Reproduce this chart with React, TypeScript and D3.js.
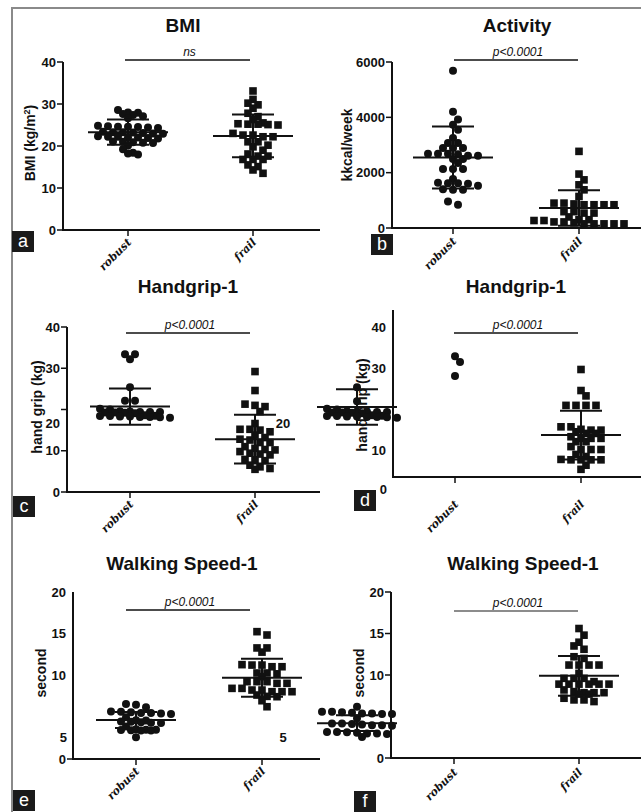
import React from "react";
import * as d3 from "d3";

// groups on the x axis
const categories = ["robust", "frail"];

// a: BMI (kg/m2)
const bmiRobust = [28.6, 28.0, 27.9, 27.6, 27.4, 27.1, 26.6, 24.8, 24.7, 24.6, 24.6, 24.5, 24.4, 24.3, 23.4, 23.3, 23.3, 23.2, 23.1, 23.0, 22.9, 22.3, 22.2, 22.2, 22.1, 22.0, 21.9, 21.8, 21.1, 21.0, 20.9, 20.8, 20.7, 20.1, 19.2, 18.4, 18.2, 18.0];
const bmiFrail = [33.1, 31.1, 30.2, 29.8, 29.0, 27.8, 27.0, 26.3, 25.5, 25.3, 25.2, 25.2, 25.0, 25.1, 23.0, 22.6, 22.6, 22.2, 22.2, 21.0, 21.0, 20.2, 19.8, 19.0, 18.1, 17.6, 17.6, 16.8, 16.8, 16.8, 15.5, 15.1, 14.3, 13.5];
const bmiMean = [23.3, 22.4];
const bmiSD = [3.0, 5.1];
const bmiTicks = [0, 10, 20, 30, 40];

// b: activity (kcal/week)
const activityRobust = [5680, 4200, 3920, 3730, 3550, 3250, 3070, 3070, 2890, 2890, 2890, 2680, 2680, 2670, 2680, 2610, 2610, 2490, 2490, 2350, 2130, 2130, 2130, 1770, 1640, 1620, 1620, 1600, 1530, 1400, 1380, 1380, 960, 840];
const activityFrail = [2770, 1950, 1740, 1560, 1380, 1140, 900, 900, 870, 840, 840, 840, 840, 590, 590, 540, 540, 400, 300, 300, 270, 270, 220, 220, 190, 150, 150, 150, 150, 150];
const activityMean = [2550, 720];
const activitySD = [1120, 640];
const activityTicks = [0, 2000, 4000, 6000];

// c: handgrip (kg)
const gripRobust = [33.4, 33.4, 32.2, 25.4, 22.1, 22.1, 20.2, 20.0, 19.6, 19.5, 19.4, 19.4, 19.4, 19.3, 19.3, 19.2, 19.1, 18.6, 18.5, 18.4, 18.4, 18.3, 18.3, 18.2, 18.2, 18.1, 18.0];
const gripFrail = [29.2, 24.6, 21.3, 21.0, 20.7, 19.5, 16.6, 15.2, 15.2, 15.0, 14.6, 13.8, 13.2, 12.8, 12.6, 12.0, 12.0, 11.0, 10.6, 10.3, 10.2, 9.8, 9.4, 9.2, 9.0, 7.9, 7.8, 7.6, 6.5, 6.1, 5.7, 5.5];
const gripMean = [20.7, 12.8];
const gripSD = [4.4, 5.9];
const gripTicks = [0, 10, 20, 30, 40];
const gripLabelled = [0, 10, 30, 40];

// d: handgrip, second copy
const grip2RobustHigh = [32.9, 31.5, 28.1];
const grip2Robust = [25.4, 22.0, 20.2, 20.0, 19.6, 19.5, 19.4, 19.4, 19.4, 19.3, 19.3, 19.2, 19.1, 18.6, 18.5, 18.4, 18.4, 18.3, 18.3, 18.2, 18.2, 18.1, 18.0];
const grip2Frail = [29.7, 24.6, 23.3, 21.0, 21.0, 21.0, 21.0, 15.8, 15.8, 15.2, 15.0, 15.0, 14.6, 14.2, 14.2, 13.4, 13.0, 13.0, 13.0, 12.2, 12.2, 11.0, 10.3, 10.3, 10.3, 9.1, 8.6, 7.9, 7.8, 7.8, 7.8, 7.8, 6.5, 5.5];
const grip2Mean = [20.6, 13.8];
const grip2SD = [4.3, 5.9];
const grip2Labelled = [10, 30, 40];

// e: walking speed (second)
const walkRobust = [6.6, 6.5, 6.2, 5.7, 5.65, 5.6, 5.5, 5.5, 5.45, 5.4, 5.0, 4.65, 4.6, 4.5, 4.45, 4.4, 4.35, 4.3, 3.9, 3.55, 3.5, 3.5, 3.47, 3.45, 3.4, 3.4, 2.6];
const walkFrail = [15.25, 14.85, 13.3, 13.3, 12.8, 11.3, 11.25, 11.25, 11.05, 11.05, 10.3, 10.3, 10.2, 9.86, 9.26, 9.26, 9.26, 9.06, 9.06, 8.46, 8.46, 8.26, 8.26, 8.06, 8.06, 8.06, 7.66, 7.5, 7.46, 6.98, 6.26];
const walkMean = [4.67, 9.74];
const walkSD = [0.96, 2.27];
const walkLabelled = [10, 15, 20];

// f: walking speed, second copy
const walk2Robust = [6.16, 5.56, 5.56, 5.5, 5.45, 5.37, 5.37, 5.3, 5.3, 4.8, 4.15, 4.15, 4.1, 4.05, 3.95, 3.95, 3.9, 3.14, 3.14, 3.1, 3.05, 2.95, 2.95, 2.9, 2.54];
const walk2Frail = [15.6, 14.8, 13.95, 13.5, 13.1, 12.2, 12.0, 11.2, 11.2, 11.2, 11.2, 10.2, 9.6, 9.6, 9.6, 9.2, 8.9, 8.9, 8.9, 8.9, 8.9, 8.9, 8.2, 8.0, 7.87, 7.87, 7.87, 7.7, 7.7, 7.2, 7.0, 7.0, 6.8];
const walk2Mean = [4.2, 9.9];
const walk2SD = [0.95, 2.4];
const walk2Ticks = [0, 10, 15, 20];

const FONT = "Liberation Sans, Arial, Helvetica, sans-serif";

// scatter dot plot layout: points close in y go on one row, spread sideways
function layoutRows(values, y, cx) {
  const ys = values.map((v) => y(v)).sort((a, b) => a - b);
  const rows = [];
  ys.forEach((py) => {
    const last = rows[rows.length - 1];
    if (last && py - last[0] <= 3.5) last.push(py);
    else rows.push([py]);
  });
  const out = [];
  let prevY = -1e9, prevPhase = -1;
  rows.forEach((r) => {
    const n = r.length;
    const my = d3.mean(r);
    let phase = n % 2 ? 0 : 5;
    let shift = 0;
    if (my - prevY < 8 && phase === prevPhase) {
      shift = 5;
      phase = 5 - phase;
    }
    r.forEach((py, i) => out.push({ x: cx + (i - (n - 1) / 2) * 10 + shift, y: py }));
    prevY = my;
    prevPhase = phase;
  });
  return out;
}

function Marks({ values, y, cx, shape }) {
  const pts = layoutRows(values, y, cx);
  return (
    <g fill="#111">
      {pts.map((p, i) =>
        shape === "circle" ? (
          <circle key={i} cx={p.x} cy={p.y} r={4} />
        ) : (
          <rect key={i} x={p.x - 3.8} y={p.y - 3.8} width={7.6} height={7.6} />
        )
      )}
    </g>
  );
}

function MeanSD({ cx, y, mean, sd }) {
  const ym = y(mean), yt = y(mean + sd), yb = y(mean - sd);
  return (
    <g stroke="#111" strokeWidth={2}>
      <line x1={cx} x2={cx} y1={yt} y2={yb} />
      <line x1={cx - 21} x2={cx + 21} y1={yt} y2={yt} />
      <line x1={cx - 21} x2={cx + 21} y1={yb} y2={yb} />
      <line x1={cx - 40} x2={cx + 40} y1={ym} y2={ym} />
    </g>
  );
}

function Panel({ p }) {
  const y = d3.scaleLinear().domain(p.domain).range(p.range);
  const x = d3.scalePoint().domain(categories).range(p.cat);
  return (
    <g fontFamily={FONT} fill="#111">
      <text x={p.titleX} y={p.titleY} textAnchor="middle" fontWeight="bold" fontSize={19}>{p.title}</text>
      <text transform={`translate(${p.yLabelX},${p.yLabelY}) rotate(-90)`} textAnchor="middle" fontWeight="bold" fontSize={14}>
        {p.yLabel}
        {p.sup ? <tspan dy={-5} fontSize={9}>{p.sup}</tspan> : null}
        {p.sup ? <tspan dy={5}>)</tspan> : null}
      </text>
      {p.groups.map((g, i) => (
        <Marks key={i} values={g.values} y={y} cx={g.cx ?? x(g.cat)} shape={g.shape} />
      ))}
      {p.stats.map((s, i) => (
        <MeanSD key={i} cx={s.cx ?? x(s.cat)} y={y} mean={s.mean} sd={s.sd} />
      ))}
      <line x1={p.axisX} x2={p.axisX} y1={p.axisTop} y2={p.xAxisY + 1} stroke="#111" strokeWidth={2} />
      <line x1={p.axisX - 1} x2={p.xEnd} y1={p.xAxisY} y2={p.xAxisY} stroke="#111" strokeWidth={2} />
      {p.ticks.map((t) => (
        <g key={t.v}>
          {t.mark ? <line x1={p.axisX - 6} x2={p.axisX} y1={y(t.v)} y2={y(t.v)} stroke="#111" strokeWidth={1.5} /> : null}
          {t.label ? (
            <text x={p.axisX - 7} y={y(t.v)} dy="0.35em" textAnchor="end" fontWeight="bold" fontSize={13}>{d3.format("d")(t.v)}</text>
          ) : null}
        </g>
      ))}
      {p.extras.map((e, i) => (
        <text key={i} x={e.x} y={y(e.v)} dy="0.35em" textAnchor={e.anchor} fontWeight="bold" fontSize={13}>{e.text}</text>
      ))}
      {categories.map((c) => (
        <g key={c}>
          <line x1={x(c)} x2={x(c)} y1={p.xAxisY} y2={p.xAxisY + 6} stroke="#111" strokeWidth={1.5} />
          <text transform={`translate(${x(c) + 4},${p.catLabelY}) rotate(-45)`} textAnchor="end" fontFamily="DejaVu Serif, serif" fontStyle="italic" fontWeight="bold" fontSize={11}>{c}</text>
        </g>
      ))}
      <line x1={p.sig.x1} x2={p.sig.x2} y1={p.sig.y} y2={p.sig.y} stroke={p.sig.color} strokeWidth={1.5} />
      <text x={(p.sig.x1 + p.sig.x2) / 2 + 2} y={p.sig.y - 4} textAnchor="middle" fontStyle="italic" fontSize={12}>{p.sig.text}</text>
      <rect x={p.letterX} y={p.letterY} width={22} height={21} fill="#1a1a1a" />
      <text x={p.letterX + 11} y={p.letterY + 16} textAnchor="middle" fill="#fff" fontSize={18}>{p.letter}</text>
    </g>
  );
}

const mk = (vals, mark, labelled) => vals.map((v) => ({ v, mark, label: labelled ? labelled.includes(v) : true }));

const panels = [
  {
    title: "BMI", titleX: 183, titleY: 32, yLabel: "BMI (kg/m", sup: "2", yLabelX: 35, yLabelY: 143,
    domain: [0, 40], range: [230, 62], axisX: 63, axisTop: 62, xAxisY: 230, xEnd: 320, cat: [128, 253], catLabelY: 243,
    ticks: mk(bmiTicks, true), extras: [],
    groups: [{ values: bmiRobust, cat: "robust", shape: "circle" }, { values: bmiFrail, cat: "frail", shape: "square" }],
    stats: [{ cat: "robust", mean: bmiMean[0], sd: bmiSD[0] }, { cat: "frail", mean: bmiMean[1], sd: bmiSD[1] }],
    sig: { x1: 125, x2: 250, y: 60, text: "ns", color: "#111" }, letter: "a", letterX: 12, letterY: 231,
  },
  {
    title: "Activity", titleX: 517, titleY: 32, yLabel: "kkcal/week", yLabelX: 352, yLabelY: 145,
    domain: [0, 6000], range: [228, 62], axisX: 392, axisTop: 62, xAxisY: 228, xEnd: 641, cat: [453, 579], catLabelY: 242,
    ticks: mk(activityTicks, true), extras: [],
    groups: [{ values: activityRobust, cat: "robust", shape: "circle" }, { values: activityFrail, cat: "frail", shape: "square" }],
    stats: [{ cat: "robust", mean: activityMean[0], sd: activitySD[0] }, { cat: "frail", mean: activityMean[1], sd: activitySD[1] }],
    sig: { x1: 454, x2: 578, y: 60, text: "p<0.0001", color: "#111" }, letter: "b", letterX: 371, letterY: 234,
  },
  {
    title: "Handgrip-1", titleX: 188, titleY: 293, yLabel: "hand grip (kg)", yLabelX: 42, yLabelY: 407,
    domain: [0, 40], range: [492, 327], axisX: 67, axisTop: 327, xAxisY: 492, xEnd: 320, cat: [130, 255], catLabelY: 505,
    ticks: mk(gripTicks, true, gripLabelled),
    extras: [{ text: "20", v: 16.7, x: 60, anchor: "end" }, { text: "20", v: 16.7, x: 283, anchor: "middle" }],
    groups: [{ values: gripRobust, cat: "robust", shape: "circle" }, { values: gripFrail, cat: "frail", shape: "square" }],
    stats: [{ cat: "robust", mean: gripMean[0], sd: gripSD[0] }, { cat: "frail", mean: gripMean[1], sd: gripSD[1] }],
    sig: { x1: 126, x2: 250, y: 333, text: "p<0.0001", color: "#111" }, letter: "c", letterX: 13, letterY: 496,
  },
  {
    title: "Handgrip-1", titleX: 516, titleY: 293, yLabel: "hand grip (kg)", yLabelX: 367, yLabelY: 405,
    domain: [0, 40], range: [492, 327], axisX: 393, axisTop: 310, xAxisY: 477, xEnd: 641, cat: [455, 581], catLabelY: 505,
    ticks: mk(grip2Labelled, false), extras: [{ text: "0", v: 0.5, x: 387, anchor: "end" }],
    groups: [
      { values: grip2Robust, cx: 357, shape: "circle" },
      { values: grip2RobustHigh, cat: "robust", shape: "circle" },
      { values: grip2Frail, cat: "frail", shape: "square" },
    ],
    stats: [{ cx: 357, mean: grip2Mean[0], sd: grip2SD[0] }, { cat: "frail", mean: grip2Mean[1], sd: grip2SD[1] }],
    sig: { x1: 454, x2: 578, y: 333, text: "p<0.0001", color: "#111" }, letter: "d", letterX: 354, letterY: 490,
  },
  {
    title: "Walking Speed-1", titleX: 182, titleY: 570, yLabel: "second", yLabelX: 46, yLabelY: 673,
    domain: [0, 20], range: [759, 592], axisX: 73, axisTop: 592, xAxisY: 759, xEnd: 320, cat: [136, 262], catLabelY: 772,
    ticks: [...mk(walkLabelled, false), { v: 0, mark: true, label: true }],
    extras: [{ text: "5", v: 2.6, x: 67, anchor: "end" }, { text: "5", v: 2.6, x: 283, anchor: "middle" }],
    groups: [{ values: walkRobust, cat: "robust", shape: "circle" }, { values: walkFrail, cat: "frail", shape: "square" }],
    stats: [{ cat: "robust", mean: walkMean[0], sd: walkSD[0] }, { cat: "frail", mean: walkMean[1], sd: walkSD[1] }],
    sig: { x1: 126, x2: 250, y: 610, text: "p<0.0001", color: "#111" }, letter: "e", letterX: 13, letterY: 790,
  },
  {
    title: "Walking Speed-1", titleX: 523, titleY: 570, yLabel: "second", yLabelX: 364, yLabelY: 673,
    domain: [0, 20], range: [758, 592], axisX: 391, axisTop: 592, xAxisY: 758, xEnd: 641, cat: [454, 579], catLabelY: 773,
    ticks: mk(walk2Ticks, true), extras: [],
    groups: [{ values: walk2Robust, cx: 357, shape: "circle" }, { values: walk2Frail, cat: "frail", shape: "square" }],
    stats: [{ cx: 357, mean: walk2Mean[0], sd: walk2SD[0] }, { cat: "frail", mean: walk2Mean[1], sd: walk2SD[1] }],
    sig: { x1: 454, x2: 578, y: 611, text: "p<0.0001", color: "#666" }, letter: "f", letterX: 354, letterY: 791,
  },
];

export default function App() {
  return (
    <>
      <style>{`body{margin:0}`}</style>
      <svg width={641} height={812} style={{ display: "block", background: "#fff" }}>
        <path d="M12,812 L12,8 L641,8" fill="none" stroke="#8a8a8a" strokeWidth={2} />
        {panels.map((p, i) => (
          <Panel key={i} p={p} />
        ))}
      </svg>
    </>
  );
}
